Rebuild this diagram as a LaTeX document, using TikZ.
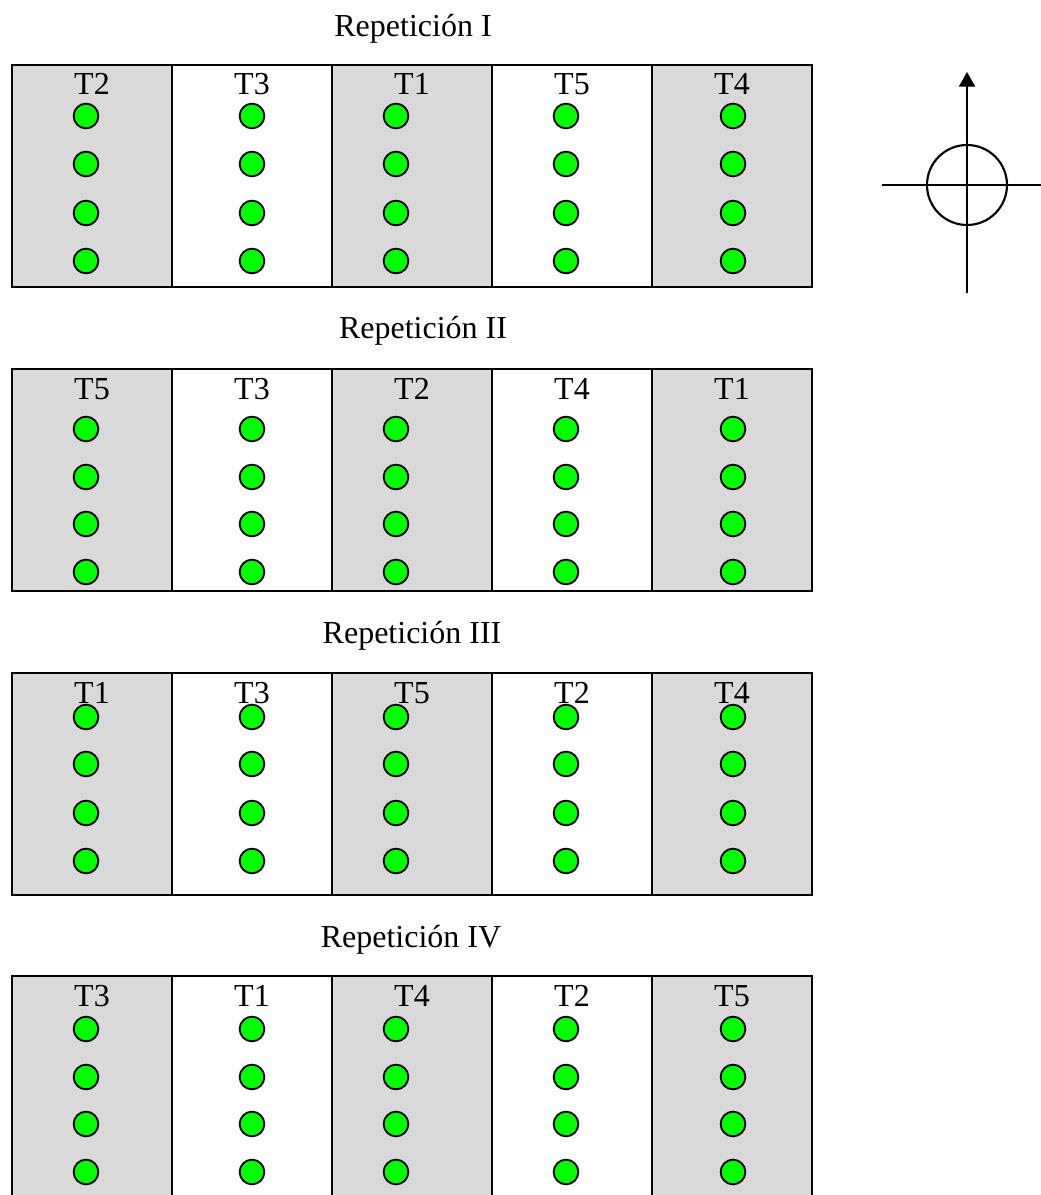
\documentclass[tikz,border=0pt]{standalone}
\usepackage{fontspec}
\setmainfont{Liberation Serif}
\usetikzlibrary{arrows.meta}
\definecolor{plotgray}{HTML}{D9D9D9}
\definecolor{dotgreen}{HTML}{00FF00}
\tikzset{
  dot/.style={circle, draw=black, fill=dotgreen, line width=1.4pt, minimum size=18.5pt, inner sep=0pt},
  lbl/.style={font=\fontsize{24}{28}\selectfont, inner sep=0pt, anchor=base},
  ttl/.style={font=\fontsize{24}{28}\selectfont, inner sep=0pt, anchor=base},
  frame/.style={draw=black, line width=2.2pt},
  divider/.style={draw=black, line width=1.6pt},
  axis/.style={draw=black, line width=1.7pt},
  ring/.style={circle, draw=black, line width=1.6pt, minimum size=60pt, inner sep=0pt}
}
\begin{document}
\begin{tikzpicture}[x=0.75pt,y=-0.75pt]
\useasboundingbox (0,0) rectangle (1041,1195);
\clip (0,0) rectangle (1041,1195);

\foreach \b/\top/\title/\tx/\tb/\labs/\da/\db/\dc/\dd in {
  1/65/I/413/37/{T2,T3,T1,T5,T4}/51/99/148/196,
  2/369/II/423/338/{T5,T3,T2,T4,T1}/60/108/155/203,
  3/673/III/412/643/{T1,T3,T5,T2,T4}/44/91/140/188,
  4/976/IV/411/947/{T3,T1,T4,T2,T5}/53/101/148/196}
{
  \foreach \gx in {12,332,652}
    \fill[plotgray] (\gx,\top) rectangle ++(160,222);
  \foreach \vx in {172,332,492,652}
    \draw[divider] (\vx,\top) -- ++(0,222);
  \draw[frame] (12,\top) rectangle ++(800,222);
  \node[ttl] (title\b) at (\tx,\tb) {Repetición \title};
  \foreach \lab [count=\c] in \labs {
    \pgfmathsetmacro\lx{{92,252,412,572,732}[\c-1]}
    \pgfmathsetmacro\dx{{86,252,396,566,733}[\c-1]}
    \node[lbl] (t\b-\c) at (\lx,\top+30) {\lab};
    \foreach \dy [count=\r] in {\da,\db,\dc,\dd}
      \node[dot] (d\b-\c-\r) at (\dx,\top+\dy) {};
  }
}

% orientation cross
\node[ring] (ring) at (967,185) {};
\coordinate (ytop) at (967,72);
\coordinate (ybot) at (967,293);
\coordinate (xl) at (882,185);
\coordinate (xr) at (1041,185);
\draw[axis,-{Triangle[length=11pt,width=12pt]}] (ybot) -- (ytop);
\draw[axis] (xl) -- (xr);
\end{tikzpicture}
\end{document}
